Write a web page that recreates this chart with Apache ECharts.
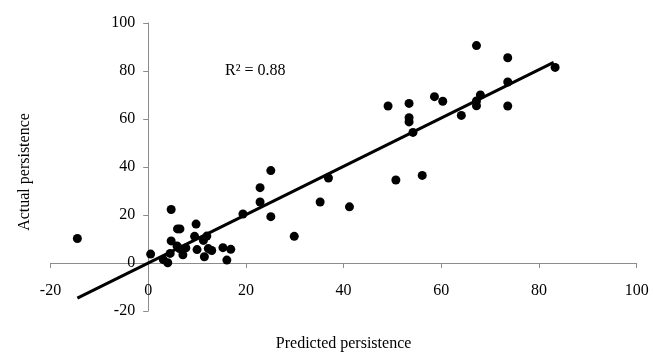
<!DOCTYPE html>
<html lang="en">
<head>
  <meta charset="UTF-8">
  <title>Predicted vs actual persistence</title>
  <script src="https://cdn.jsdelivr.net/npm/echarts@6/dist/echarts.min.js"></script>
  <style>
    html, body { margin: 0; padding: 0; background: #fff; }
    #main { width: 653px; height: 352px; }
  </style>
</head>
<body>
  <div id="main"></div>
  <script type="text/javascript">
    var predicted = [-14.5, 0.5, 3.1, 4.0, 4.5, 4.7, 4.7, 6.0, 6.5, 5.9, 6.4, 7.1, 7.7, 9.8, 9.5, 10.0,
      11.3, 12.0, 11.5, 12.3, 13.0, 15.3, 16.1, 16.9, 19.4, 22.9, 22.9, 25.1, 25.1, 29.9, 35.2, 36.9,
      41.2, 49.1, 50.7, 53.4, 53.4, 53.4, 54.2, 56.1, 58.6, 60.3, 64.1, 67.2, 67.2, 67.2, 68.0, 73.6,
      73.6, 73.6, 83.3];
    var actual = [10.2, 3.7, 1.4, 0.1, 4.0, 22.3, 9.2, 14.2, 14.2, 7.1, 6.0, 3.4, 6.3, 16.2, 11.1, 5.6,
      9.4, 11.2, 2.6, 6.0, 5.2, 6.4, 1.2, 5.7, 20.4, 31.4, 25.4, 38.5, 19.3, 11.1, 25.4, 35.4,
      23.4, 65.4, 34.6, 66.5, 60.5, 58.8, 54.4, 36.5, 69.3, 67.4, 61.5, 90.6, 65.5, 67.5, 70.0, 85.5,
      75.4, 65.4, 81.5];
    // fitted line end points
    var trendX = [-14.5, 83.0];
    var trendY = [-14.6, 83.6];
    var axisTicks = [-20, 0, 20, 40, 60, 80, 100];

    var points = predicted.map(function (x, i) { return [x, actual[i]]; });
    var trend = trendX.map(function (x, i) { return [x, trendY[i]]; });

    var font = '"Liberation Serif", "Times New Roman", serif';
    var lo = axisTicks[0], hi = axisTicks[axisTicks.length - 1];
    var grid = { left: 50.5, right: 16.3, top: 23, bottom: 41 };
    var plotW = 653 - grid.left - grid.right;
    var plotH = 352 - grid.top - grid.bottom;
    // shift each axis line so it crosses the other axis at zero
    var xShift = -plotH * (0 - lo) / (hi - lo);
    var yShift = -plotW * (0 - lo) / (hi - lo);

    function makeAxis() {
      return {
        type: 'value',
        min: lo,
        max: hi,
        interval: 20,
        axisLine: { show: true, onZero: false, lineStyle: { color: '#8c8c8c', width: 1 } },
        axisTick: { show: true, length: 5, lineStyle: { color: '#8c8c8c', width: 1 } },
        splitLine: { show: false },
        nameLocation: 'middle',
        nameTextStyle: { color: '#000', fontFamily: font, fontSize: 16 }
      };
    }

    var xAxis = makeAxis();
    xAxis.position = 'bottom';
    xAxis.offset = xShift;
    xAxis.name = 'Predicted persistence';
    xAxis.nameGap = 73;
    xAxis.axisLabel = { color: '#000', fontFamily: font, fontSize: 16, margin: 20 };

    var yAxis = makeAxis();
    yAxis.position = 'left';
    yAxis.offset = yShift;
    yAxis.name = 'Actual persistence';
    yAxis.nameGap = 115;
    yAxis.nameTextStyle.padding = [0, 10, 0, 0];
    yAxis.axisLabel = { color: '#000', fontFamily: font, fontSize: 16, margin: 13 };

    var chart = echarts.init(document.getElementById('main'));
    chart.setOption({
      animation: false,
      backgroundColor: '#fff',
      grid: { left: grid.left, right: grid.right, top: grid.top, bottom: grid.bottom, containLabel: false, outerBoundsMode: 'none' },
      xAxis: xAxis,
      yAxis: yAxis,
      graphic: [{
        type: 'text',
        left: 225,
        top: 63,
        style: { text: 'R² = 0.88', fill: '#000', font: '16px ' + font }
      }],
      series: [
        {
          type: 'line',
          data: trend,
          symbol: 'none',
          lineStyle: { color: '#000', width: 3 },
          z: 2
        },
        {
          type: 'scatter',
          data: points,
          symbol: 'circle',
          symbolSize: 9,
          itemStyle: { color: '#000', opacity: 1 },
          z: 3
        }
      ]
    });
  </script>
</body>
</html>
